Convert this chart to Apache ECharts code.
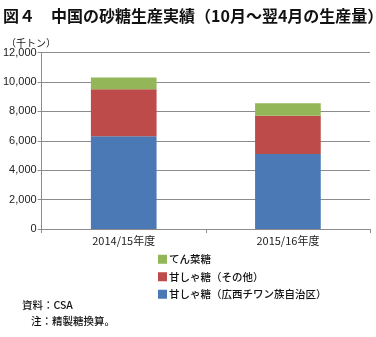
<!DOCTYPE html>
<html>
<head>
<meta charset="utf-8">
<script src="https://cdn.jsdelivr.net/npm/echarts@6/dist/echarts.min.js"></script>
<style>
  html, body { margin: 0; padding: 0; background: #fff; }
  #chart { width: 376px; height: 337px; }
</style>
</head>
<body>
<div id="chart"></div>
<script>
// Seasons on the category axis
const seasons = ['2014/15年度', '2015/16年度'];
// Production by source, thousand tonnes (stacked bottom to top)
const caneGuangxi = [6300, 5100];
const caneOther = [3200, 2600];
const beet = [800, 850];
// Value-axis settings
const yMin = 0, yMax = 12000, yStep = 2000;

const FONT = '"Noto Sans CJK JP", "Noto Sans", sans-serif';
const LABEL_FONT = '"Liberation Sans", "Noto Sans CJK JP", sans-serif';

const chart = echarts.init(document.getElementById('chart'), null, { renderer: 'canvas' });

const barStyle = (color) => ({ color: color });

chart.setOption({
  animation: false,
  backgroundColor: '#fff',
  textStyle: { fontFamily: FONT },
  grid: { left: 39, right: 6, top: 52.5, bottom: 108, containLabel: false },
  xAxis: {
    type: 'category',
    data: seasons,
    axisLine: { lineStyle: { color: '#8c8c8c', width: 1 } },
    axisTick: { show: true, length: 4, lineStyle: { color: '#8c8c8c' } },
    axisLabel: { color: '#222', fontSize: 11, fontFamily: FONT, margin: 6 }
  },
  yAxis: {
    type: 'value',
    min: yMin, max: yMax, interval: yStep,
    axisLine: { show: true, lineStyle: { color: '#8c8c8c', width: 1 } },
    axisTick: { show: true, length: 4, inside: false, lineStyle: { color: '#8c8c8c' } },
    splitLine: { lineStyle: { color: '#8c8c8c', width: 1 } },
    axisLabel: {
      color: '#222', fontSize: 11, fontFamily: LABEL_FONT, margin: 5,
      formatter: (v) => v.toLocaleString('en-US')
    }
  },
  legend: {
    orient: 'vertical',
    left: 153, top: 249,
    itemWidth: 9, itemHeight: 9, itemGap: 7,
    icon: 'rect',
    textStyle: { color: '#111', fontSize: 10.5, fontWeight: 500, fontFamily: FONT, padding: [0, 0, 0, -3] },
    data: ['てん菜糖', '甘しゃ糖（その他）', '甘しゃ糖（広西チワン族自治区）']
  },
  series: [
    { name: '甘しゃ糖（広西チワン族自治区）', type: 'bar', stack: 'total', data: caneGuangxi,
      barWidth: '40%', itemStyle: barStyle('#4a79b5') },
    { name: '甘しゃ糖（その他）', type: 'bar', stack: 'total', data: caneOther,
      barWidth: '40%', itemStyle: barStyle('#bd4b49') },
    { name: 'てん菜糖', type: 'bar', stack: 'total', data: beet,
      barWidth: '40%', itemStyle: barStyle('#93b659') }
  ],
  graphic: [
    { type: 'text', left: 3, top: 8,
      style: { text: '図４　中国の砂糖生産実績（10月～翌4月の生産量）', fill: '#111',
               font: 'bold 16px ' + FONT } },
    { type: 'text', left: 6, top: 38,
      style: { text: '（千トン）', fill: '#222', font: '10px ' + FONT } },
    { type: 'text', left: 22, top: 300,
      style: { text: '資料：CSA', fill: '#111', font: '500 10.5px ' + FONT } },
    { type: 'text', left: 31, top: 316,
      style: { text: '注：精製糖換算。', fill: '#111', font: '500 10.5px ' + FONT } }
  ]
});
</script>
</body>
</html>
